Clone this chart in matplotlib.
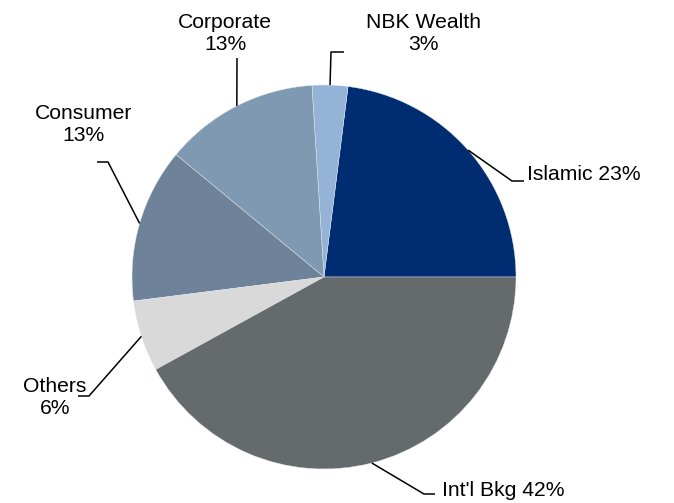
import numpy as np
import matplotlib.pyplot as plt

plt.rcParams['font.family'] = ['Liberation Sans', 'DejaVu Sans']

# data
segments = ['Islamic', 'NBK Wealth', 'Corporate', 'Consumer', 'Others', "Int'l Bkg"]
shares = [23, 3, 13, 13, 6, 42]
colors = ['#002D72', '#95B3D7', '#8099B3', '#6E8399', '#D9D9D9', '#656A6D']

W, H = 674, 503
fig = plt.figure(figsize=(W / 100, H / 100), dpi=100)
ax = fig.add_axes([0, 0, 1, 1])


def fy(y):
    # pixel row (from top) -> data y
    return H - y


cx, cy, R = 324, fy(277), 192
wedges, _ = ax.pie(shares, colors=colors, startangle=0, counterclock=True,
                   center=(cx, cy), radius=R,
                   wedgeprops=dict(edgecolor='#E8ECF2', linewidth=0.3))
ax.set_xlim(0, W)
ax.set_ylim(0, H)
ax.set_aspect('equal')
ax.axis('off')

# label layout: elbow points and text positions (pixel coords from top-left)
layout = {
    'Islamic':    dict(path=[(512, 181), (524, 181)], text='Islamic 23%', pos=(527, 174), ha='left'),
    'NBK Wealth': dict(path=[(331, 52), (344, 52)], text='NBK Wealth\n3%', pos=(423, 33), ha='center'),
    'Corporate':  dict(path=[(237, 58)], text='Corporate\n13%', pos=(225, 33), ha='center'),
    'Consumer':   dict(path=[(108, 162), (97, 162)], text='Consumer\n13%', pos=(84, 124), ha='center'),
    'Others':     dict(path=[(89, 396), (78, 396)], text='Others\n6%', pos=(55, 398), ha='center'),
    "Int'l Bkg":  dict(path=[(424, 494), (435, 494)], text="Int'l Bkg 42%", pos=(442, 490), ha='left'),
}

for w, name in zip(wedges, segments):
    mid = np.deg2rad((w.theta1 + w.theta2) / 2)
    x0 = cx + R * np.cos(mid)
    y0 = cy + R * np.sin(mid)
    lay = layout[name]
    xs = [x0] + [p[0] for p in lay['path']]
    ys = [y0] + [fy(p[1]) for p in lay['path']]
    ax.plot(xs, ys, color='black', linewidth=1.1, solid_capstyle='butt')
    ax.text(lay['pos'][0], fy(lay['pos'][1]), lay['text'], ha=lay['ha'], va='center',
            fontsize=15.2, color='black', linespacing=1.2)

fig.savefig('out.png', dpi=100)
